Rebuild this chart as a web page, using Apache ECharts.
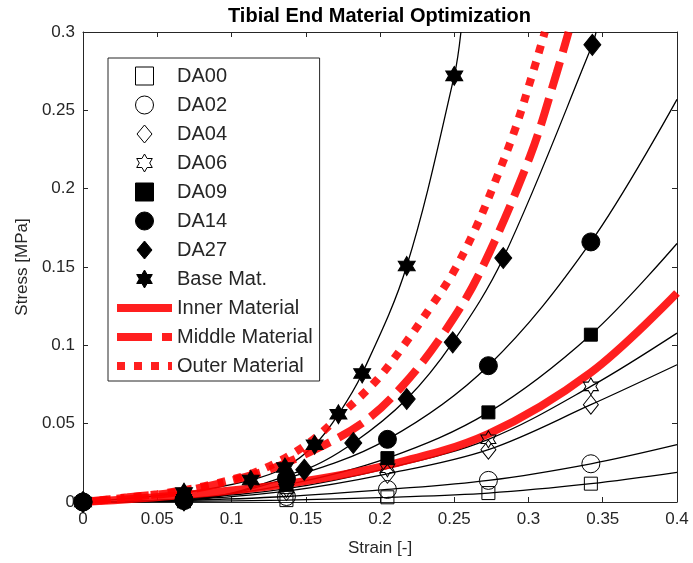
<!DOCTYPE html>
<html>
<head>
<meta charset="utf-8">
<script src="https://cdn.jsdelivr.net/npm/echarts@6/dist/echarts.min.js"></script>
<style>
html, body { margin: 0; padding: 0; background: #fff; }
#main { width: 693px; height: 563px; }
</style>
</head>
<body>
<div id="main"></div>
<script>
// measured strains for the DA samples
var xDA = [0, 0.068, 0.137, 0.205, 0.273, 0.342];
var da00 = [0, 0.0004, 0.0012, 0.0030, 0.0057, 0.0117];
var da02 = [0, 0.0010, 0.0035, 0.0080, 0.0138, 0.0244];
var da04 = [0, 0.0015, 0.0070, 0.0180, 0.0334, 0.0621];
var da06 = [0, 0.0020, 0.0085, 0.0215, 0.0400, 0.0738];
var da09 = [0, 0.0020, 0.0110, 0.0280, 0.0572, 0.1068];
var da14 = [0, 0.0010, 0.0150, 0.0400, 0.0870, 0.1660];
var xDA27 = [0, 0.068, 0.149, 0.182, 0.218, 0.249, 0.283, 0.343];
var da27 = [0, 0.0010, 0.0206, 0.0377, 0.0657, 0.1019, 0.1557, 0.2918];
var xBase = [0, 0.068, 0.113, 0.136, 0.156, 0.172, 0.188, 0.218, 0.250];
var base = [0, 0.0060, 0.0140, 0.0220, 0.0365, 0.0560, 0.0820, 0.1506, 0.2720];

// where each fitted curve leaves the axes
var endDA00 = [0.4, 0.0189];
var endDA02 = [0.4, 0.0366];
var endDA04 = [0.4, 0.0876];
var endDA06 = [0.4, 0.1078];
var endDA09 = [0.4, 0.1650];
var endDA14 = [0.4, 0.2570];
var endDA27 = [0.3455, 0.3];
var endBase = [0.2545, 0.3];

// optimized material curves
var xInner = [0, 0.068, 0.137, 0.205, 0.273, 0.342, 0.4];
var inner = [0, 0.0045, 0.0115, 0.0235, 0.0435, 0.0827, 0.1334];
var xMiddle = [0, 0.03, 0.068, 0.12, 0.153, 0.189, 0.216, 0.243, 0.267, 0.301, 0.319, 0.327];
var middle = [0, 0.003, 0.007, 0.019, 0.032, 0.051, 0.075, 0.108, 0.146, 0.2205, 0.274, 0.3];
var xOuter = [0, 0.05, 0.086, 0.12, 0.151, 0.175, 0.198, 0.216, 0.236, 0.249, 0.265, 0.279, 0.291, 0.301, 0.311];
var outer = [0, 0.005, 0.011, 0.0206, 0.037, 0.057, 0.078, 0.1, 0.127, 0.146, 0.176, 0.208, 0.238, 0.268, 0.3];

var SQUARE = 'path://M0 0H10V10H0Z';
var DIAMOND = 'path://M5 0L10 6L5 12L0 6Z';
var HEXAGRAM = 'path://M50 0L64.43 25L93.3 25L78.87 50L93.3 75L64.43 75L50 100L35.57 75L6.7 75L21.13 50L6.7 25L35.57 25Z';

function pts(xs, ys) {
    return xs.map(function (x, i) { return [x, ys[i]]; });
}

function markers(name, xs, ys, symbol, size, filled) {
    return {
        name: name,
        type: 'scatter',
        z: 4,
        symbol: symbol,
        symbolSize: size,
        itemStyle: {
            color: filled ? '#000' : 'rgba(0,0,0,0)',
            borderColor: '#000',
            borderWidth: 1,
            opacity: 1
        },
        data: pts(xs, ys)
    };
}

function fit(name, xs, ys, end) {
    return {
        name: name + ' fit',
        type: 'line',
        z: 2,
        symbol: 'none',
        smooth: 0.35,
        silent: true,
        lineStyle: { color: '#000', width: 1.3 },
        data: pts(xs, ys).concat([end])
    };
}

function material(name, xs, ys, dash) {
    return {
        name: name,
        type: 'line',
        z: 3,
        symbol: 'none',
        smooth: 0.35,
        lineStyle: { color: '#ff0000', width: 8, type: dash, cap: 'butt', opacity: 0.88 },
        itemStyle: { color: '#ff0000' },
        data: pts(xs, ys)
    };
}

var axisText = { color: '#262626', fontSize: 17, fontFamily: 'Arial' };

var dom = document.getElementById('main');
var myChart = echarts.init(dom);
var option;

option = {
    animation: false,
    textStyle: { fontFamily: 'Arial' },
    title: {
        text: 'Tibial End Material Optimization',
        left: 228,
        top: 6,
        padding: 0,
        textStyle: { fontSize: 20, fontWeight: 'bold', color: '#000', fontFamily: 'Arial' }
    },
    grid: { left: 83, right: 16, top: 32, bottom: 61 },
    legend: {
        orient: 'vertical',
        left: 108,
        top: 58,
        padding: [7, 7, 4, 5],
        itemGap: 7,
        itemWidth: 55,
        itemHeight: 18,
        selectedMode: false,
        backgroundColor: '#fff',
        borderColor: '#262626',
        borderWidth: 1,
        itemStyle: { borderWidth: 1 },
        textStyle: { fontSize: 20, lineHeight: 22, color: '#262626', fontFamily: 'Arial' },
        data: [
            'DA00', 'DA02', 'DA04', 'DA06', 'DA09', 'DA14', 'DA27', 'Base Mat.',
            { name: 'Inner Material', itemStyle: { opacity: 0 }, lineStyle: { width: 8, type: 'solid', cap: 'butt' } },
            { name: 'Middle Material', itemStyle: { opacity: 0 }, lineStyle: { width: 8, type: [35, 10], cap: 'butt' } },
            { name: 'Outer Material', itemStyle: { opacity: 0 }, lineStyle: { width: 8, type: [8, 9], cap: 'butt' } }
        ]
    },
    xAxis: [
        {
            type: 'value', min: 0, max: 0.4, interval: 0.05, position: 'bottom',
            name: 'Strain [-]', nameLocation: 'middle', nameGap: 38,
            nameTextStyle: axisText,
            axisLine: { onZero: false, lineStyle: { color: '#262626' } },
            axisTick: { inside: true, length: 5, lineStyle: { color: '#262626' } },
            axisLabel: { color: '#262626', fontSize: 17, margin: 9 },
            splitLine: { show: false }
        },
        {
            type: 'value', min: 0, max: 0.4, interval: 0.05, position: 'top',
            axisLine: { onZero: false, lineStyle: { color: '#262626' } },
            axisTick: { inside: true, length: 5, lineStyle: { color: '#262626' } },
            axisLabel: { show: false },
            splitLine: { show: false }
        }
    ],
    yAxis: [
        {
            type: 'value', min: 0, max: 0.3, interval: 0.05, position: 'left',
            name: 'Stress [MPa]', nameLocation: 'middle', nameGap: 50,
            nameTextStyle: axisText,
            axisLine: { show: true, onZero: false, lineStyle: { color: '#262626' } },
            axisTick: { show: true, inside: true, length: 5, lineStyle: { color: '#262626' } },
            axisLabel: { color: '#262626', fontSize: 17, margin: 8 },
            splitLine: { show: false }
        },
        {
            type: 'value', min: 0, max: 0.3, interval: 0.05, position: 'right',
            axisLine: { show: true, onZero: false, lineStyle: { color: '#262626' } },
            axisTick: { show: true, inside: true, length: 5, lineStyle: { color: '#262626' } },
            axisLabel: { show: false },
            splitLine: { show: false }
        }
    ],
    series: [
        fit('DA00', xDA, da00, endDA00),
        fit('DA02', xDA, da02, endDA02),
        fit('DA04', xDA, da04, endDA04),
        fit('DA06', xDA, da06, endDA06),
        fit('DA09', xDA, da09, endDA09),
        fit('DA14', xDA, da14, endDA14),
        fit('DA27', xDA27, da27, endDA27),
        fit('Base Mat.', xBase, base, endBase),
        material('Inner Material', xInner, inner, 'solid'),
        material('Middle Material', xMiddle, middle, [28, 10]),
        material('Outer Material', xOuter, outer, [8, 9]),
        markers('DA00', xDA, da00, SQUARE, 13, false),
        markers('DA02', xDA, da02, 'circle', 18, false),
        markers('DA04', xDA, da04, DIAMOND, [15, 19], false),
        markers('DA06', xDA, da06, HEXAGRAM, [15, 17], false),
        markers('DA09', xDA, da09, SQUARE, 13, true),
        markers('DA14', xDA, da14, 'circle', 18, true),
        markers('DA27', xDA27, da27, DIAMOND, [17, 21], true),
        markers('Base Mat.', xBase, base, HEXAGRAM, [17, 19], true)
    ]
};

if (option && typeof option === 'object') {
    myChart.setOption(option);
}
</script>
</body>
</html>
